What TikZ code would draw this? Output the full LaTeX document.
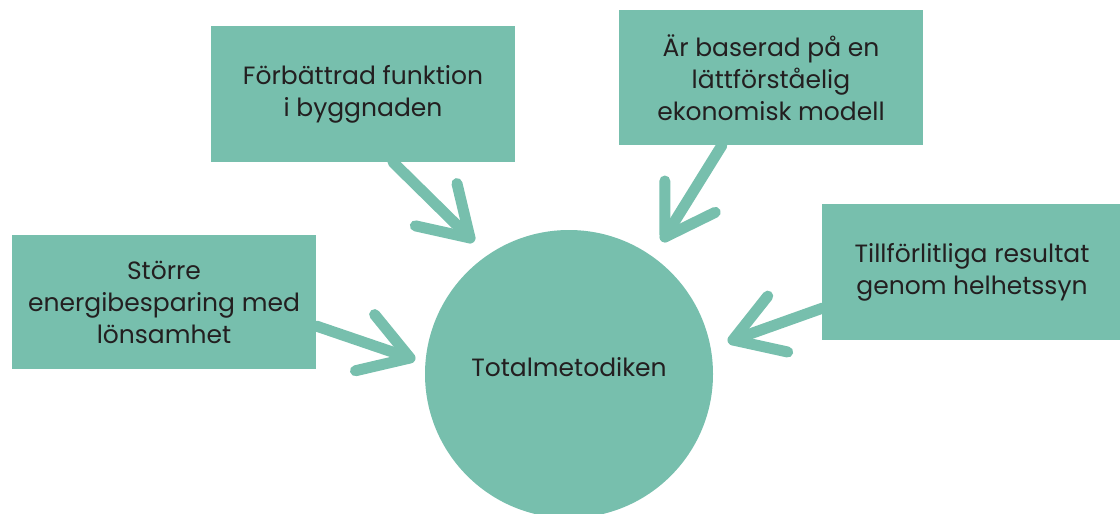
\documentclass[tikz,border=0pt]{standalone}
\usepackage{fontspec}
\setmainfont{Poppins}
\usetikzlibrary{calc,backgrounds}
\definecolor{teal}{HTML}{77BFAD}
\definecolor{ink}{HTML}{231F20}
\tikzset{
  infobox/.style={fill=teal, draw=none, rectangle, minimum width=304pt,
    minimum height=135pt, align=center, text=ink, inner sep=0pt,
    font=\fontsize{25}{32}\selectfont},
  hub/.style={fill=teal, draw=none, circle, minimum size=288pt, inner sep=0pt},
  hubtext/.style={text=ink, font=\fontsize{25}{32}\selectfont},
  arrowline/.style={draw=teal, line width=11pt, line cap=round, line join=round},
}
\begin{document}
\begin{tikzpicture}[x=1pt,y=-1pt]
  \useasboundingbox (0,0) rectangle (1120,514);
  % hub and the four statements around it
  \node[hub] (hub) at (569,374) {};
  \node[hubtext] (hublabel) at ($(hub.center)+(0,-7)$) {Totalmetodiken};
  \node[infobox, minimum height=136pt] (b1) at (363,94) {Förbättrad funktion\\i byggnaden};
  \node[infobox] (b2) at (771,77.5) {Är baserad på en\\lättförståelig\\ekonomisk modell};
  \node[infobox, minimum height=134pt] (b3) at (164,302) {Större\\energibesparing med\\lönsamhet};
  \node[infobox, minimum width=300pt, minimum height=136pt] (b4) at (972,272) {Tillförlitliga resultat\\genom helhetssyn};
  % arrow start points on the box edges and tips near the hub
  \coordinate (s1) at ($(b1.south)+(30,0)$);
  \coordinate (t1) at (470,238);
  \coordinate (s2) at ($(b2.south)+(-49,0)$);
  \coordinate (t2) at (665,237);
  \coordinate (s3) at ($(b3.east)+(0,24)$);
  \coordinate (t3) at (410,358);
  \coordinate (s4) at ($(b4.west)+(1,36)$);
  \coordinate (t4) at (733,340);
  \begin{scope}[on background layer]
    \foreach \i in {1,2,3,4} {
      \draw[arrowline] (s\i) -- (t\i);
      \draw[arrowline] ($(t\i)!56pt!32:(s\i)$) -- (t\i) -- ($(t\i)!56pt!-32:(s\i)$);
    }
  \end{scope}
\end{tikzpicture}
\end{document}
